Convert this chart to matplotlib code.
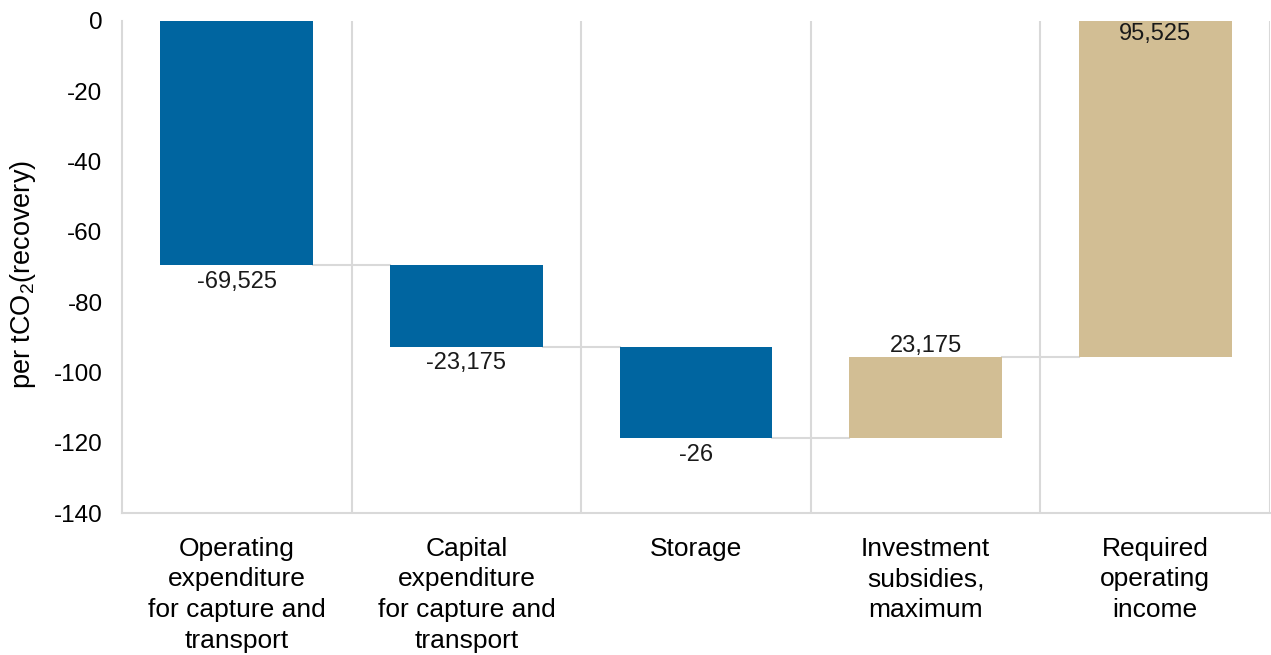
import matplotlib.pyplot as plt
import numpy as np

plt.rcParams['font.family'] = ['Liberation Sans', 'DejaVu Sans']
plt.rcParams['mathtext.fontset'] = 'custom'
plt.rcParams['mathtext.rm'] = 'Liberation Sans'

categories = ['Operating\nexpenditure\nfor capture and\ntransport',
              'Capital\nexpenditure\nfor capture and\ntransport',
              'Storage',
              'Investment\nsubsidies,\nmaximum',
              'Required\noperating\nincome']
changes = [-69.525, -23.175, -26.0, 23.175]
total_value = 95.525
y_ticks = [0, -20, -40, -60, -80, -100, -120, -140]

BLUE = '#0065a0'
TAN = '#d2be94'
GRID = '#d9d9d9'


def fmt(v):
    s = f'{v:.3f}'.rstrip('0').rstrip('.')
    return s.replace('.', ',')


fig = plt.figure(figsize=(12.71, 6.55), dpi=100)
ax = fig.add_axes([122 / 1271, 1 - 513 / 655, 1148 / 1271, 492 / 655])

x = np.arange(len(categories))
width = 0.665

# running totals for the step bars
starts = np.concatenate([[0], np.cumsum(changes)[:-1]])
ends = np.cumsum(changes)
colors = [BLUE if c < 0 else TAN for c in changes]

ax.bar(x[:-1], changes, bottom=starts, width=width, color=colors, zorder=3)
ax.bar(x[-1], total_value, bottom=-total_value, width=width, color=TAN, zorder=3)

# connectors between neighbouring bars
for i in range(len(changes)):
    ax.plot([x[i] + width / 2, x[i + 1] - width / 2], [ends[i], ends[i]],
            color=GRID, lw=1.5, zorder=2)

lbl = dict(ha='center', fontsize=17, color='#1a1a1a', textcoords='offset points')
for i, c in enumerate(changes):
    if c < 0:
        ax.annotate(fmt(c), (x[i], ends[i]), xytext=(0, -4), va='top', **lbl)
    else:
        ax.annotate(fmt(c), (x[i], ends[i]), xytext=(0, 0), va='bottom', **lbl)
ax.annotate(fmt(total_value), (x[-1], 0), xytext=(0, -1.5), va='top', **lbl)

ax.set_xlim(-0.5, len(categories) - 0.5)
ax.set_ylim(-140, 0)
ax.set_yticks(y_ticks)
ax.set_yticklabels([str(t) for t in y_ticks], fontsize=17.5)
ax.set_xticks(x)
ax.set_xticklabels(categories, fontsize=19, linespacing=1.36)
ax.tick_params(axis='both', length=0)
ax.tick_params(axis='y', pad=14)
ax.tick_params(axis='x', pad=17)

# category separators
for b in np.arange(0.5, len(categories) - 0.5, 1.0):
    ax.axvline(b, color=GRID, lw=1.5, zorder=1)
ax.axvline(len(categories) - 0.5, color=GRID, lw=1.5, zorder=1)

for side in ['top', 'right']:
    ax.spines[side].set_visible(False)
ax.spines['left'].set_color(GRID)
ax.spines['left'].set_linewidth(1.5)
ax.spines['bottom'].set_color(GRID)
ax.spines['bottom'].set_linewidth(1.5)

ax.set_ylabel('per tCO$_2$(recovery)', fontsize=19.5)
ax.yaxis.set_label_coords(-0.073, 0.484)

fig.savefig('out.png', dpi=100)
